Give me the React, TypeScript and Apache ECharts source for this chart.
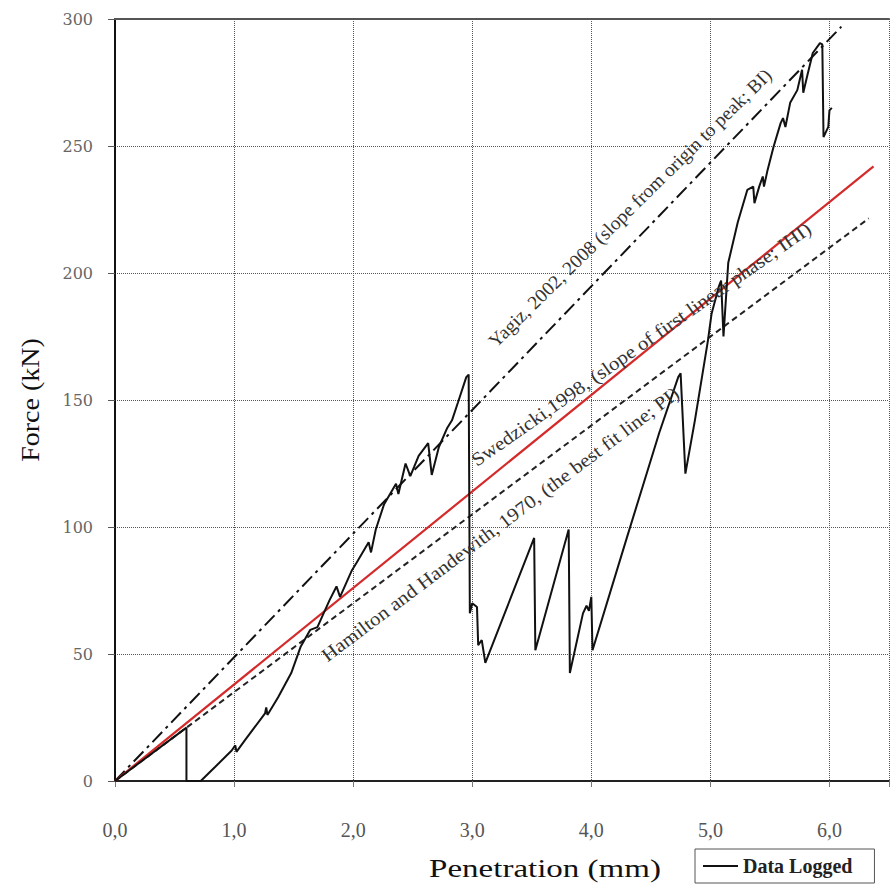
import React, { useEffect, useRef } from "react";
import * as echarts from "echarts";

// Penetration (mm) vs Force (kN)
const xTickValues = [0, 1, 2, 3, 4, 5, 6];
const yTickValues = [0, 50, 100, 150, 200, 250, 300];

const dataLogged: [number, number][] = [
  [0, 0], [0.6, 21], [0.6, 0], [0.72, 0], [0.84, 5.5], [0.98, 12], [1.01, 14], [1.02, 11.5],
  [1.09, 16], [1.17, 21], [1.26, 26.6], [1.27, 29], [1.28, 26], [1.37, 33], [1.48, 42.5],
  [1.56, 53], [1.64, 59.5], [1.7, 60.6], [1.8, 71], [1.86, 76.6], [1.89, 72.5], [1.99, 83],
  [2.03, 86], [2.13, 94], [2.15, 90], [2.19, 99], [2.26, 109], [2.36, 117], [2.38, 113],
  [2.44, 125], [2.48, 120], [2.55, 128], [2.63, 133], [2.66, 120.5], [2.72, 131.5],
  [2.79, 139], [2.83, 142], [2.88, 149], [2.95, 159], [2.97, 160], [2.98, 66], [3.0, 70],
  [3.04, 68.5], [3.05, 53.5], [3.08, 55.5], [3.11, 46.5], [3.52, 95.7], [3.53, 51.5],
  [3.81, 99], [3.82, 42.5], [3.93, 66], [3.96, 69], [3.98, 67], [4.0, 72.5], [4.01, 51.5],
  [4.3, 96], [4.57, 137], [4.73, 159], [4.75, 160.5], [4.79, 121], [4.87, 142],
  [4.98, 173.6], [5.01, 184], [5.07, 194.5], [5.09, 197], [5.11, 175], [5.15, 204],
  [5.23, 220], [5.31, 232.7], [5.36, 234], [5.37, 227.5], [5.41, 234], [5.44, 238],
  [5.45, 234], [5.48, 240.5], [5.53, 249.6], [5.59, 259], [5.61, 261], [5.63, 257.5],
  [5.67, 267], [5.73, 272], [5.77, 280], [5.78, 271], [5.81, 277], [5.86, 286.6],
  [5.92, 290.5], [5.94, 290], [5.95, 253.5], [5.99, 257.5], [6.0, 264], [6.02, 265],
];

const yagizLine: [number, number][] = [[0, 0], [6.1, 297]];
const swedzickiLine: [number, number][] = [[0, 0], [6.37, 242]];
const hamiltonLine: [number, number][] = [[0, 0], [6.33, 221.5]];

const annotationTexts = [
  "Yagiz, 2002, 2008 (slope from origin to peak; BI)",
  "Swedzicki,1998, (slope of first linear phase; IHI)",
  "Hamilton and Handewith, 1970, (the best fit line; PI)",
];

const SERIF = "'Liberation Serif', 'Times New Roman', serif";

export default function App() {
  const ref = useRef<HTMLDivElement>(null);

  useEffect(() => {
    if (!ref.current) return;
    const chart = echarts.init(ref.current, undefined, { renderer: "svg" });

    const annPos = [
      { x: 630, y: 208, angle: 44.5, sx: 1.03 },
      { x: 641, y: 344, angle: 35, sx: 1.1 },
      { x: 500, y: 524, angle: 37, sx: 1.1 },
    ];

    const option: any = {
      animation: false,
      backgroundColor: "#ffffff",
      grid: { left: 115, top: 19, width: 785, height: 762, containLabel: false },
      xAxis: [
        {
          type: "value",
          min: 0,
          max: 6.5,
          interval: 1,
          axisLine: { show: true, lineStyle: { color: "#222", width: 2 } },
          axisTick: { show: true, length: 6, lineStyle: { color: "#777", width: 1 } },
          axisLabel: {
            margin: 39,
            fontSize: 20,
            fontFamily: SERIF,
            color: "#555",
            formatter: (v: number) =>
              xTickValues.includes(v) ? v.toFixed(1).replace(".", ",") : "",
          },
          splitLine: {
            show: true,
            showMinLine: false,
            lineStyle: { color: "#555", width: 1, type: [1, 1] },
          },
        },
        {
          type: "value",
          position: "top",
          min: 0,
          max: 6.5,
          interval: 1,
          axisLine: { show: true, onZero: false, lineStyle: { color: "#555", width: 2 } },
          axisTick: { show: false },
          axisLabel: { show: false },
          splitLine: { show: false },
        },
      ],
      yAxis: {
        type: "value",
        min: 0,
        max: 300,
        interval: 50,
        axisLine: { show: true, lineStyle: { color: "#111", width: 2 } },
        axisTick: { show: true, length: 7, lineStyle: { color: "#555", width: 1 } },
        axisLabel: {
          margin: 22,
          fontSize: 16,
          fontFamily: "'DejaVu Serif', serif",
          color: "#666",
          formatter: (v: number) => (yTickValues.includes(v) ? String(v) : ""),
        },
        splitLine: {
          show: true,
          showMinLine: false,
          showMaxLine: false,
          lineStyle: { color: "#555", width: 1, type: [1, 1] },
        },
      },
      legend: {
        data: ["Data Logged"],
        left: 695,
        top: 849,
        icon: "rect",
        itemWidth: 35,
        itemHeight: 2,
        padding: [7, 22, 7, 8],
        borderColor: "#555",
        borderWidth: 1,
        textStyle: { fontFamily: SERIF, fontSize: 20, fontWeight: "bold", color: "#222" },
      },
      series: [
        {
          name: "Hamilton",
          type: "line",
          data: hamiltonLine,
          symbol: "none",
          lineStyle: { color: "#222", width: 2, type: [6, 4] },
        },
        {
          name: "Yagiz",
          type: "line",
          data: yagizLine,
          symbol: "none",
          lineStyle: { color: "#111", width: 2, type: [14, 5, 3, 5] },
        },
        {
          name: "Swedzicki",
          type: "line",
          data: swedzickiLine,
          symbol: "none",
          lineStyle: { color: "#d42a2a", width: 2.2 },
        },
        {
          name: "Data Logged",
          type: "line",
          data: dataLogged,
          symbol: "none",
          itemStyle: { color: "#111" },
          lineStyle: { color: "#111", width: 2 },
        },
      ],
      graphic: [
        {
          type: "text",
          x: 545,
          y: 868,
          scaleX: 1.27,
          style: {
            text: "Penetration (mm)",
            fontFamily: SERIF,
            fontSize: 26,
            fill: "#111",
            align: "center",
            verticalAlign: "middle",
          },
        },
        {
          type: "text",
          x: 31,
          y: 400,
          rotation: Math.PI / 2,
          scaleX: 1.12,
          style: {
            text: "Force (kN)",
            fontFamily: SERIF,
            fontSize: 25,
            fill: "#111",
            align: "center",
            verticalAlign: "middle",
          },
        },
        ...annotationTexts.map((t, i) => ({
          type: "text",
          x: annPos[i].x,
          y: annPos[i].y,
          rotation: (annPos[i].angle * Math.PI) / 180,
          scaleX: annPos[i].sx,
          z: 10,
          style: {
            text: t,
            fontFamily: SERIF,
            fontSize: 19,
            fill: "#333",
            align: "center",
            verticalAlign: "middle",
          },
        })),
      ],
    };

    chart.setOption(option);
    return () => chart.dispose();
  }, []);

  return (
    <div
      ref={ref}
      style={{ position: "absolute", left: 0, top: 0, width: 892, height: 887, overflow: "hidden" }}
    />
  );
}
